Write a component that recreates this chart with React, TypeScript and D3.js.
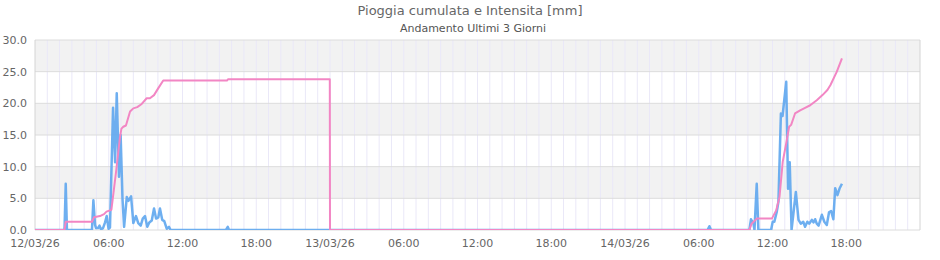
import React from "react";
import * as d3 from "d3";

// Minutes since 12/03/26 00:00
const intensityDay1: [number, number][] = [
  [0, 0], [144, 0], [150, 7.3], [156, 0], [278, 0], [285, 4.7], [293, 0.8], [298, 0.3],
  [308, 0.3], [315, 0.7], [322, 0.1], [332, 0.3], [342, 1.2], [350, 2.2], [359, 0.2],
  [366, 0.4], [381, 19.3], [391, 10.7], [399, 21.6], [410, 8.4], [418, 15], [427, 5],
  [435, 0.5], [448, 5.2], [456, 4.6], [469, 5.3], [480, 1.1], [493, 2.2], [504, 1.1],
  [516, 0.7], [526, 1.8], [537, 2.2], [548, 0.5], [558, 1.2], [570, 1.5], [581, 3.4],
  [591, 1.8], [602, 2.0], [610, 3.4], [621, 1.6], [631, 1.4], [643, 0.2], [654, 0.5],
  [662, 0], [932, 0], [941, 0.5], [947, 0],
];
const intensityDay3: [number, number][] = [
  [3283, 0], [3292, 0.6], [3300, 0], [3487, 0], [3495, 1.7], [3507, 1.0], [3512, 0],
  [3523, 7.3], [3531, 0], [3593, 0], [3601, 1.3], [3609, 1.3], [3621, 2.9], [3629, 4.5],
  [3641, 18.4], [3649, 18.0], [3667, 23.4], [3676, 6.5], [3684, 10.7], [3693, 0],
  [3714, 6.0], [3727, 1.6], [3738, 1.0], [3750, 1.3], [3759, 0.5], [3770, 1.3],
  [3779, 1.0], [3792, 1.6], [3800, 1.2], [3808, 1.7], [3816, 1.0], [3825, 0.7],
  [3841, 2.4], [3853, 1.3], [3865, 0.8], [3876, 2.8], [3886, 3.0], [3897, 1.7],
  [3906, 6.6], [3917, 5.5], [3928, 6.6], [3939, 7.3],
];
const cumulativeDay1: [number, number][] = [
  [0, 0], [144, 0], [150, 1.3], [278, 1.3], [288, 2.0], [317, 2.2], [337, 2.5],
  [349, 2.9], [366, 3.1], [373, 3.2], [395, 9], [415, 14.7], [422, 16.0], [431, 16.3],
  [444, 16.5], [464, 18.7], [480, 19.2], [499, 19.4], [521, 19.9], [545, 20.8],
  [561, 20.8], [581, 21.3], [602, 22.4], [626, 23.6], [937, 23.6], [942, 23.8],
  [1439, 23.8],
];
const cumulativeDay2: [number, number][] = [[1440, 0], [2879, 0]];
const cumulativeDay3: [number, number][] = [
  [2880, 0], [3487, 0], [3498, 1.0], [3523, 1.8], [3597, 1.8], [3618, 3.1], [3634, 5.2],
  [3650, 10.8], [3667, 13.7], [3681, 16.3], [3691, 16.6], [3710, 18.4], [3735, 18.9],
  [3759, 19.3], [3784, 19.7], [3816, 20.5], [3844, 21.3], [3868, 22.1], [3883, 22.9],
  [3914, 25], [3939, 27.1],
];

const yTicks = [0, 5, 10, 15, 20, 25, 30];
const xTickLabels = ["12/03/26", "06:00", "12:00", "18:00", "13/03/26", "06:00", "12:00", "18:00", "14/03/26", "06:00", "12:00", "18:00"];

const W = 940, H = 260;
const L = 35, R = 920, T = 40, B = 230;

export default function App() {
  const x = d3.scaleLinear().domain([0, 72 * 60]).range([L, R]);
  const y = d3.scaleLinear().domain([0, 30]).range([B, T]);
  const line = d3.line<[number, number]>().x(d => x(d[0])).y(d => y(d[1]));

  const intensityFull: [number, number][] = [...intensityDay1, [3280, 0], ...intensityDay3];
  const cumulative: [number, number][] = [...cumulativeDay1, ...cumulativeDay2, ...cumulativeDay3];

  const hours = d3.range(1, 72);
  const bands = [[25, 30], [15, 20], [5, 10]];
  const font = "'DejaVu Sans', sans-serif";

  return (
    <svg width={W} height={H} style={{ position: "absolute", left: 0, top: 0, background: "#fff" }} fontFamily={font}>
      <defs>
        <clipPath id="plot">
          <rect x={L} y={T} width={R - L} height={B - T} />
        </clipPath>
      </defs>
      {bands.map(([a, b]) => (
        <rect key={a} x={L} y={y(b)} width={R - L} height={y(a) - y(b)} fill="#f2f2f2" />
      ))}
      {hours.map(h => (
        <line key={h} x1={x(h * 60)} x2={x(h * 60)} y1={T} y2={B} stroke="#eae8f8" strokeWidth={1} />
      ))}
      {yTicks.map(t => (
        <line key={t} x1={L} x2={R} y1={y(t)} y2={y(t)} stroke="#dcdcdc" strokeWidth={1} />
      ))}
      <line x1={L} x2={L} y1={T} y2={B} stroke="#d4d4d4" />
      <line x1={R} x2={R} y1={T} y2={B} stroke="#d4d4d4" />
      <g clipPath="url(#plot)">
        <path d={line(intensityFull) || ""} fill="none" stroke="#5ea6ee" strokeWidth={2.5} strokeOpacity={0.9} strokeLinejoin="round" />
        <path d={line(cumulative) || ""} fill="none" stroke="#f286c4" strokeWidth={2} strokeLinejoin="round" />
      </g>
      {yTicks.map(t => (
        <text key={t} x={27} y={y(t) + 4} fontSize={11} fill="#666" textAnchor="end">{t.toFixed(1)}</text>
      ))}
      {xTickLabels.map((lab, i) => (
        <text key={i} x={x(i * 360)} y={247} fontSize={11} fill="#666" textAnchor="middle">{lab}</text>
      ))}
      <text x={470} y={15} fontSize={13} fill="#666" textAnchor="middle">Pioggia cumulata e Intensita [mm]</text>
      <text x={473} y={32} fontSize={11} fill="#555" textAnchor="middle">Andamento Ultimi 3 Giorni</text>
    </svg>
  );
}
